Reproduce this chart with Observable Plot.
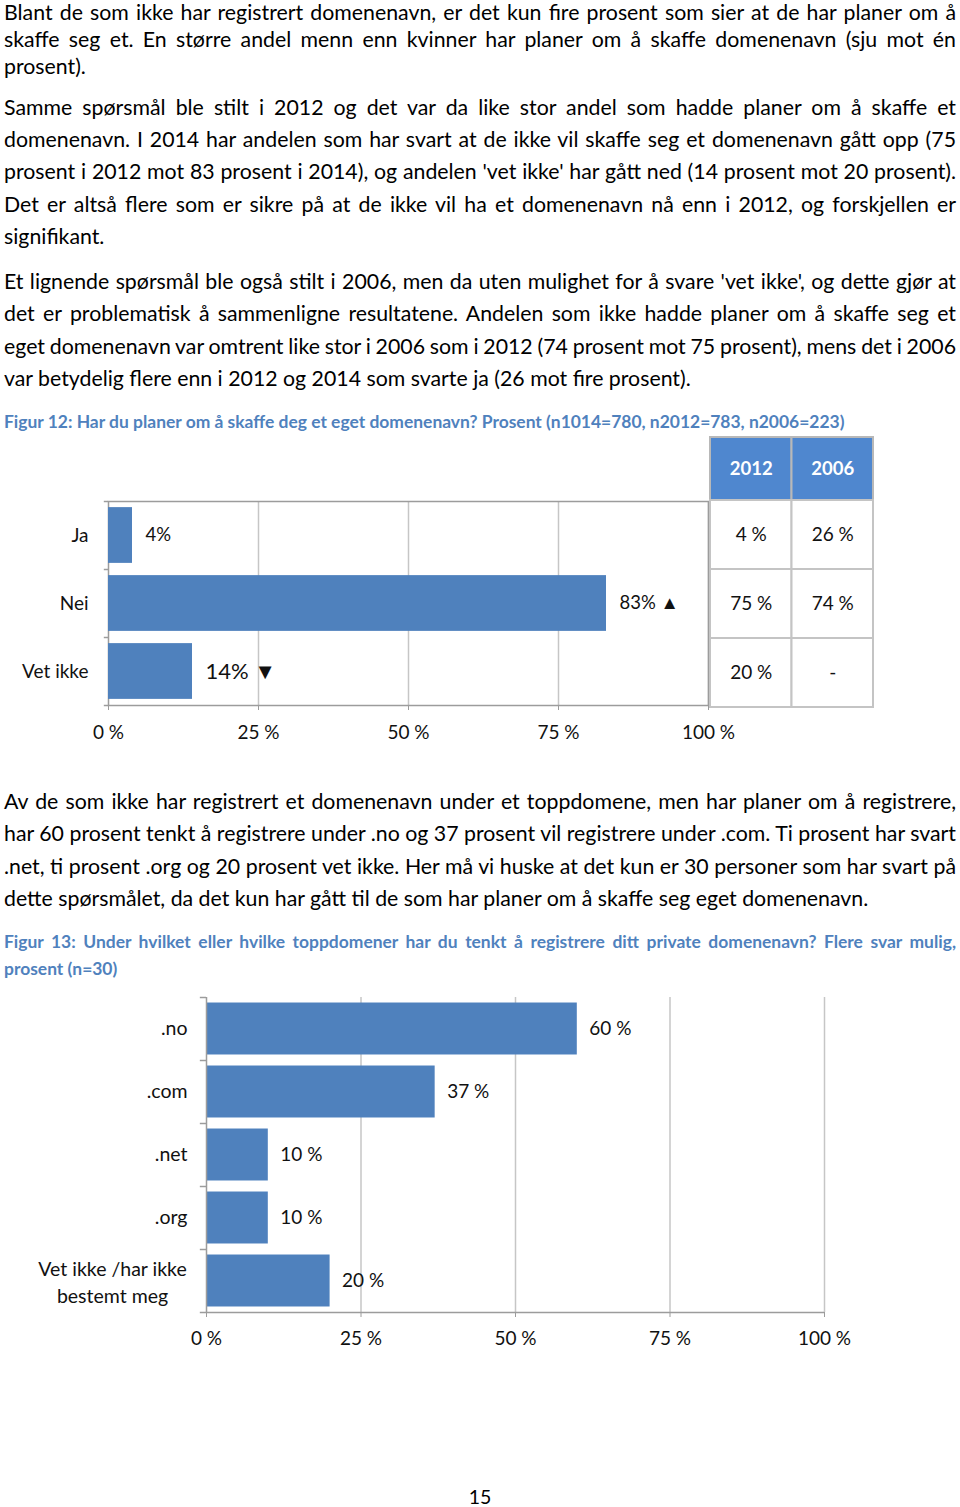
<!DOCTYPE html>
<html>
<head>
<meta charset="utf-8">
<script src="https://cdn.jsdelivr.net/npm/d3@7"></script>
<script src="https://cdn.jsdelivr.net/npm/@observablehq/plot@0.6"></script>
<style>
  html, body { margin: 0; padding: 0; background: #fff; }
  #page { position: relative; width: 960px; height: 1507px; overflow: hidden; font-family: Lato, "Open Sans", sans-serif; color: #000; }
  .para { position: absolute; left: 4px; width: 952px; font-size: 21.3px; }
  .ln { white-space: nowrap; }
  .cap { position: absolute; left: 4px; width: 952px; font-size: 17.45px; font-weight: bold; color: #4f81bd; }
  .abs { position: absolute; }
  #pageno { position: absolute; left: 0; width: 960px; text-align: center; top: 1484px; font-size: 19.5px; line-height: 26px; }
</style>
</head>
<body>
<div id="page">
  <div class="para" style="top:0px;">
    <div class="ln j" style="line-height:25.56px;">Blant de som ikke har registrert domenenavn, er det kun fire prosent som sier at de har planer om å</div>
    <div class="ln j" style="line-height:26px;">skaffe seg et. En større andel menn enn kvinner har planer om å skaffe domenenavn (sju mot én</div>
    <div class="ln" style="line-height:28px;">prosent).</div>
  </div>
  <div class="para" style="top:90.56px; line-height:32.4px;">
    <div class="ln j">Samme spørsmål ble stilt i 2012 og det var da like stor andel som hadde planer om å skaffe et</div>
    <div class="ln j">domenenavn. I 2014 har andelen som har svart at de ikke vil skaffe seg et domenenavn gått opp (75</div>
    <div class="ln j">prosent i 2012 mot 83 prosent i 2014), og andelen 'vet ikke' har gått ned (14 prosent mot 20 prosent).</div>
    <div class="ln j">Det er altså flere som er sikre på at de ikke vil ha et domenenavn nå enn i 2012, og forskjellen er</div>
    <div class="ln">signifikant.</div>
  </div>
  <div class="para" style="top:264.9px; line-height:32.4px;">
    <div class="ln j">Et lignende spørsmål ble også stilt i 2006, men da uten mulighet for å svare 'vet ikke', og dette gjør at</div>
    <div class="ln j">det er problematisk å sammenligne resultatene. Andelen som ikke hadde planer om å skaffe seg et</div>
    <div class="ln j">eget domenenavn var omtrent like stor i 2006 som i 2012 (74 prosent mot 75 prosent), mens det i 2006</div>
    <div class="ln">var betydelig flere enn i 2012 og 2014 som svarte ja (26 mot fire prosent).</div>
  </div>
  <div class="cap" style="top:411.6px; line-height:20px;">
    <div class="ln">Figur 12: Har du planer om å skaffe deg et eget domenenavn? Prosent (n1014=780, n2012=783, n2006=223)</div>
  </div>

  <div id="chart1" class="abs" style="left:0; top:480px;"></div>
  <div id="thead" class="abs" style="left:710px; top:437px;"></div>
  <div id="tbody" class="abs" style="left:710px; top:500px;"></div>

  <div class="para" style="top:784.9px; line-height:32.4px;">
    <div class="ln j">Av de som ikke har registrert et domenenavn under et toppdomene, men har planer om å registrere,</div>
    <div class="ln j">har 60 prosent tenkt å registrere under .no og 37 prosent vil registrere under .com. Ti prosent har svart</div>
    <div class="ln j">.net, ti prosent .org og 20 prosent vet ikke. Her må vi huske at det kun er 30 personer som har svart på</div>
    <div class="ln">dette spørsmålet, da det kun har gått til de som har planer om å skaffe seg eget domenenavn.</div>
  </div>
  <div class="cap" style="top:928px; line-height:27px;">
    <div class="ln j">Figur 13: Under hvilket eller hvilke toppdomener har du tenkt å registrere ditt private domenenavn? Flere svar mulig,</div>
    <div class="ln">prosent (n=30)</div>
  </div>

  <div id="chart2" class="abs" style="left:0; top:985px;"></div>

  <div id="pageno">15</div>
</div>

<script>
// ---------- data ----------
const cats1 = ["Ja", "Nei", "Vet ikke"];
const vals2014 = [4, 83, 14];
const labels2014 = ["4%", "83% ▲", "14% ▼"];
const tableYears = ["2012", "2006"];
const vals2012 = [4, 75, 20];
const vals2006 = [26, 74, null];
const xTicks = [0, 25, 50, 75, 100];

const cats2 = [".no", ".com", ".net", ".org", "Vet ikke /har ikke\nbestemt meg"];
const vals2 = [60, 37, 10, 10, 20];

// ---------- styling ----------
const BLUE = "#4f81bd";
const AXIS = "#9c9c9c";
const GRID = "#c6c6c6";
const TXT = "#111";
const FONT = "Lato, 'Open Sans', sans-serif";
const pct = d => d + " %";

// ---------- chart 1 ----------
const data1 = cats1.map((c, i) => ({cat: c, value: vals2014[i], label: labels2014[i]}));
const mt1 = 21, h1 = 270 - mt1 - 45, step1 = h1 / cats1.length;
const chart1 = Plot.plot({
  width: 720, height: 270,
  marginLeft: 108, marginRight: 12, marginTop: mt1, marginBottom: 45,
  style: {fontFamily: FONT, fontSize: "19px", color: TXT, background: "transparent", overflow: "visible"},
  x: {domain: [0, 100], label: null},
  y: {domain: cats1, paddingInner: 0.18, paddingOuter: 0.09, round: false, label: null},
  marks: [
    Plot.ruleX(xTicks.slice(1), {stroke: GRID, strokeWidth: 1.5}),
    Plot.frame({stroke: AXIS, strokeWidth: 1.5}),
    Plot.barX(data1, {x: "value", y: "cat", fill: BLUE}),
    Plot.text(data1, {filter: d => d.cat !== "Vet ikke", x: "value", y: "cat", text: "label", textAnchor: "start", dx: 13, fontSize: 18.5, fill: TXT}),
    Plot.text(data1, {filter: d => d.cat === "Vet ikke", x: "value", y: "cat", text: "label", textAnchor: "start", dx: 13, fontSize: 22, fill: TXT}),
    Plot.ruleY(cats1, {y: d => d, x1: -0.7, x2: 0, dy: -step1 / 2, stroke: AXIS, strokeWidth: 1.5}),
    Plot.ruleY(cats1.slice(-1), {y: d => d, x1: -0.7, x2: 0, dy: step1 / 2, stroke: AXIS, strokeWidth: 1.5}),
    Plot.axisX({ticks: xTicks, tickFormat: pct, tickSize: 5, tickPadding: 15, stroke: AXIS, fill: TXT, fontSize: 19, label: null}),
    Plot.axisY({tickSize: 0, tickPadding: 20, fill: TXT, fontSize: 19, label: null})
  ]
});
document.getElementById("chart1").appendChild(chart1);

// ---------- table (2012 / 2006) ----------
const thead = Plot.plot({
  width: 163, height: 63, margin: 0,
  style: {fontFamily: FONT, background: "transparent", overflow: "visible"},
  x: {domain: tableYears, padding: 0, round: false, axis: null},
  y: {domain: ["head"], padding: 0, round: false, axis: null},
  marks: [
    Plot.cell(tableYears, {x: d => d, y: () => "head", fill: "#4f87cf", stroke: "#b8b8b8", strokeWidth: 2, inset: 0}),
    Plot.text(tableYears, {x: d => d, y: () => "head", text: d => d, fill: "white", fontWeight: "bold", fontSize: 18.5})
  ]
});
document.getElementById("thead").appendChild(thead);

const tableRows = cats1.flatMap((c, i) => [
  {cat: c, year: tableYears[0], value: vals2012[i]},
  {cat: c, year: tableYears[1], value: vals2006[i]}
]);
const tbody = Plot.plot({
  width: 163, height: 207, margin: 0,
  style: {fontFamily: FONT, background: "transparent", overflow: "visible"},
  x: {domain: tableYears, padding: 0, round: false, axis: null},
  y: {domain: cats1, padding: 0, round: false, axis: null},
  marks: [
    Plot.cell(tableRows, {x: "year", y: "cat", fill: "white", stroke: "#c4c4c4", strokeWidth: 2, inset: 0}),
    Plot.text(tableRows, {x: "year", y: "cat", text: d => d.value == null ? "-" : d.value + " %", fill: TXT, fontSize: 19})
  ]
});
document.getElementById("tbody").appendChild(tbody);

// ---------- chart 2 ----------
const data2 = cats2.map((c, i) => ({cat: c, value: vals2[i]}));
const h2 = 315, step2 = h2 / cats2.length;
const chart2 = Plot.plot({
  width: 960, height: 372,
  marginLeft: 206, marginRight: 136, marginTop: 12, marginBottom: 45,
  style: {fontFamily: FONT, fontSize: "19px", color: TXT, background: "transparent", overflow: "visible"},
  x: {domain: [0, 100], label: null},
  y: {domain: cats2, paddingInner: 0.175, paddingOuter: 0.0875, round: false, label: null, axis: null},
  marks: [
    Plot.ruleX(xTicks.slice(1), {stroke: GRID, strokeWidth: 1.5}),
    Plot.barX(data2, {x: "value", y: "cat", fill: BLUE}),
    Plot.text(data2, {x: "value", y: "cat", text: d => d.value + " %", textAnchor: "start", dx: 12, fontSize: 19, fill: TXT}),
    Plot.ruleX([0], {stroke: AXIS, strokeWidth: 1.5}),
    Plot.ruleY(cats2.slice(-1), {y: d => d, x1: -1, x2: 100, dy: step2 / 2, stroke: AXIS, strokeWidth: 1.5}),
    Plot.ruleY(cats2, {y: d => d, x1: -1, x2: 0, dy: -step2 / 2, stroke: AXIS, strokeWidth: 1.5}),
    Plot.axisX({ticks: xTicks, tickFormat: pct, tickSize: 5, tickPadding: 14, stroke: AXIS, fill: TXT, fontSize: 19, label: null}),
    Plot.text(data2, {filter: d => !d.cat.includes("\n"), x: 0, y: "cat", text: "cat", textAnchor: "end", dx: -19, fill: TXT, fontSize: 19.5}),
    Plot.text(data2, {filter: d => d.cat.includes("\n"), x: 0, y: "cat", text: "cat", textAnchor: "middle", dx: -94, lineHeight: 1.38, fill: TXT, fontSize: 19.5})
  ]
});
document.getElementById("chart2").appendChild(chart2);

// ---------- justify text lines ----------
function justify() {
  document.querySelectorAll(".ln.j").forEach(div => {
    div.style.wordSpacing = "0px";
    let span = div.querySelector("span.m");
    if (!span) {
      span = document.createElement("span");
      span.className = "m";
      span.textContent = div.textContent;
      div.textContent = "";
      div.appendChild(span);
    }
    const w = span.getBoundingClientRect().width;
    const spaces = (span.textContent.match(/ /g) || []).length;
    if (spaces > 0) div.style.wordSpacing = ((952 - w) / spaces) + "px";
  });
}
justify();
if (document.fonts && document.fonts.ready) document.fonts.ready.then(justify);
</script>
</body>
</html>
